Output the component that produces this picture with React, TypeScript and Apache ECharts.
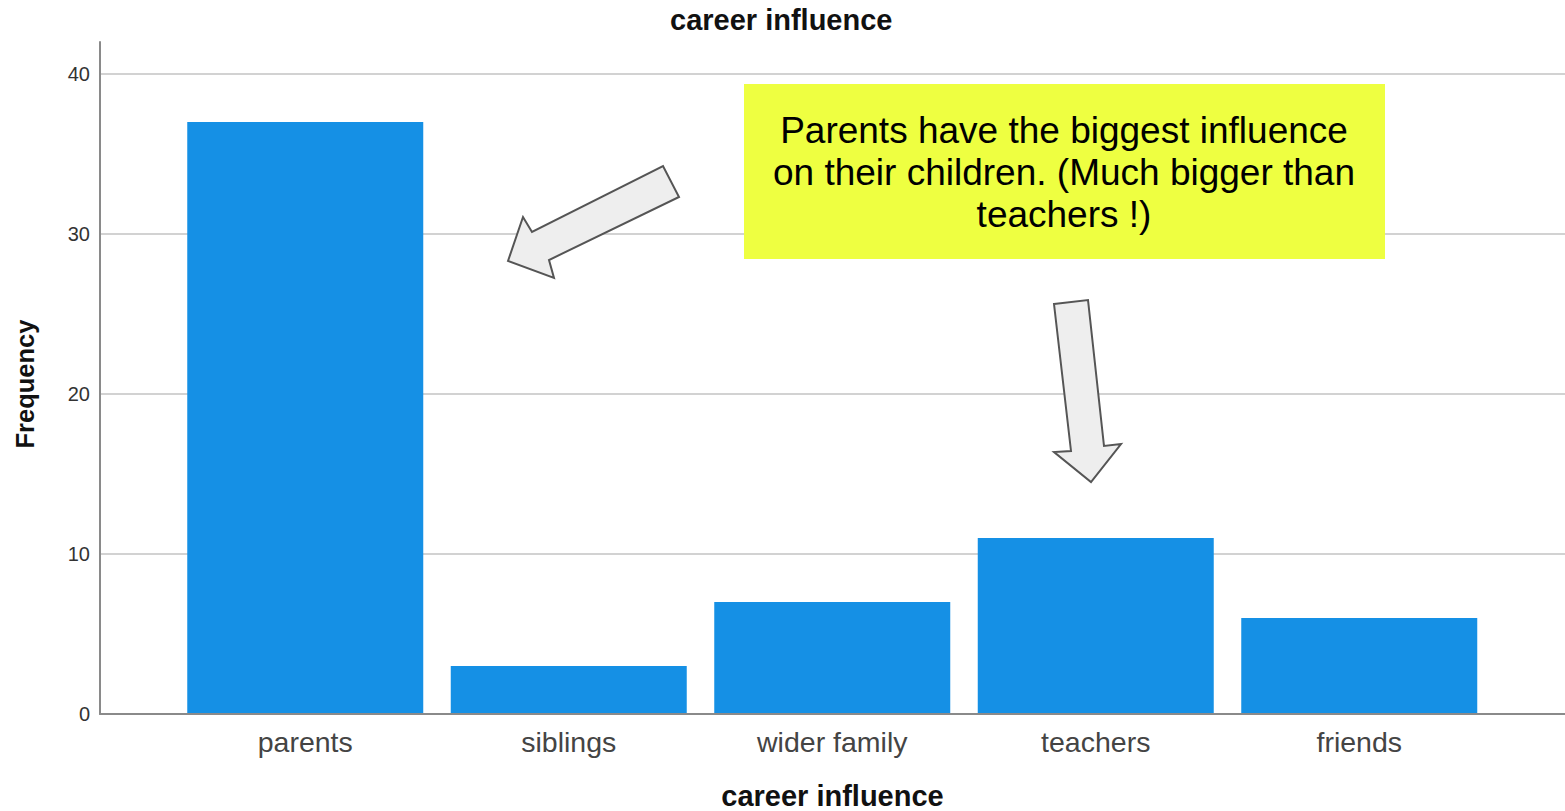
import React, { useEffect, useRef } from "react";
import * as echarts from "echarts";

const categories = ["parents", "siblings", "wider family", "teachers", "friends"];
const frequencies = [37, 3, 7, 11, 6];
const yMin = 0;
const yMax = 42;
const yGridMax = 40;
const yInterval = 10;
const chartTitle = "career influence";
const xAxisTitle = "career influence";
const yAxisTitle = "Frequency";
const noteText = "Parents have the biggest influence\non their children. (Much bigger than\nteachers !)";

const FONT = "'Liberation Sans', Arial, sans-serif";

export default function App() {
  const ref = useRef<HTMLDivElement>(null);
  useEffect(() => {
    if (!ref.current) return;
    const chart = echarts.init(ref.current, null, { renderer: "svg" });
    const option: any = {
      animation: false,
      backgroundColor: "#ffffff",
      title: {
        text: chartTitle,
        left: 665,
        top: 0,
        textStyle: { fontFamily: FONT, fontSize: 29, fontWeight: "bold", color: "#111" },
      },
      grid: [
        { left: 100, right: 0, top: 42, bottom: 97, outerBoundsMode: "none", containLabel: false },
        { left: 173.5, width: 1317.5, top: 42, bottom: 97, outerBoundsMode: "none", containLabel: false },
        { left: 100, right: 0, top: 74, bottom: 97, outerBoundsMode: "none", containLabel: false },
      ],
      xAxis: [
        {
          gridIndex: 0,
          type: "value",
          min: 0,
          max: 1,
          z: 5,
          name: xAxisTitle,
          nameLocation: "middle",
          nameGap: 67,
          nameTextStyle: { fontFamily: FONT, fontSize: 29, fontWeight: "bold", color: "#111" },
          axisLine: { show: true, onZero: false, lineStyle: { color: "#8a8a8a", width: 2 } },
          axisTick: { show: false },
          axisLabel: { show: false },
          splitLine: { show: false },
        },
        {
          gridIndex: 1,
          type: "category",
          data: categories,
          axisLine: { show: false },
          axisTick: { show: false },
          axisLabel: { fontFamily: FONT, fontSize: 28.5, color: "#444", margin: 13 },
        },
        {
          gridIndex: 2,
          type: "value",
          show: false,
        },
      ],
      yAxis: [
        {
          gridIndex: 0,
          type: "value",
          min: yMin,
          max: yMax,
          interval: yInterval,
          z: 5,
          name: yAxisTitle,
          nameLocation: "middle",
          nameGap: 62,
          nameTextStyle: {
            fontFamily: FONT,
            fontSize: 25.5,
            fontWeight: "bold",
            color: "#111",
            padding: [0, 12, 0, 0],
          },
          axisLine: { show: true, lineStyle: { color: "#8a8a8a", width: 2 } },
          axisTick: { show: false },
          axisLabel: { fontFamily: FONT, fontSize: 20, color: "#333", margin: 10, showMaxLabel: false },
          splitLine: { show: false },
        },
        {
          gridIndex: 1,
          type: "value",
          min: yMin,
          max: yMax,
          show: false,
        },
        {
          gridIndex: 2,
          type: "value",
          min: yMin,
          max: yGridMax,
          interval: yInterval,
          axisLine: { show: false },
          axisTick: { show: false },
          axisLabel: { show: false },
          splitLine: { show: true, lineStyle: { color: "#d2d2d2", width: 2 } },
        },
      ],
      series: [
        {
          type: "bar",
          xAxisIndex: 1,
          yAxisIndex: 1,
          data: frequencies,
          barWidth: 236,
          itemStyle: { color: "#1590e5" },
          z: 3,
        },
      ],
      graphic: [
        {
          type: "polygon",
          z: 10,
          shape: {
            points: [
              [508, 261],
              [523, 217],
              [532, 232],
              [663, 166],
              [679, 197],
              [549, 260],
              [554, 278],
            ],
          },
          style: { fill: "#eeeeee", stroke: "#555555", lineWidth: 2 },
        },
        {
          type: "polygon",
          z: 10,
          shape: {
            points: [
              [1054, 304],
              [1088, 300],
              [1104, 446],
              [1121, 444],
              [1091, 482],
              [1054, 452],
              [1071, 451],
            ],
          },
          style: { fill: "#eeeeee", stroke: "#555555", lineWidth: 2 },
        },
        {
          type: "rect",
          z: 10,
          shape: { x: 744, y: 84, width: 641, height: 175 },
          style: { fill: "#eeff41" },
        },
        {
          type: "text",
          z: 11,
          x: 1064,
          y: 172,
          style: {
            text: noteText,
            font: `37px ${FONT}`,
            fill: "#000000",
            align: "center",
            verticalAlign: "middle",
            lineHeight: 42,
          },
        },
      ],
    };
    chart.setOption(option);
    return () => chart.dispose();
  }, []);
  return (
    <div
      ref={ref}
      style={{ position: "fixed", left: 0, top: 0, width: 1565, height: 811 }}
    />
  );
}
